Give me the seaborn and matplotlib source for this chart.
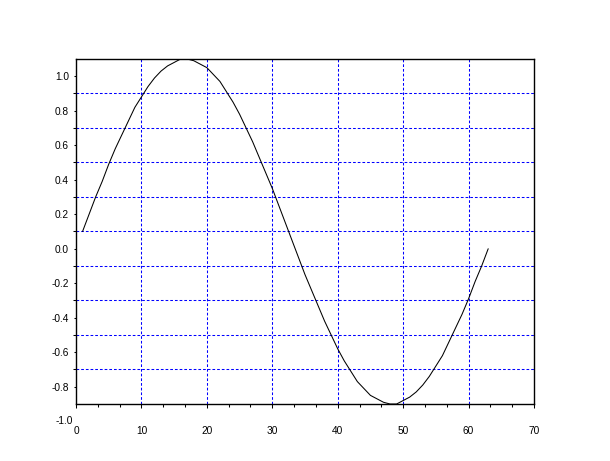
import matplotlib
matplotlib.use("Agg")
import matplotlib.pyplot as plt
from matplotlib.ticker import MultipleLocator, FixedLocator
import seaborn as sns
import pandas as pd

# data
x_values = list(range(1, 64))
y_values = [0.10, 0.20, 0.30, 0.39, 0.49, 0.58, 0.66, 0.74, 0.82, 0.88,
            0.94, 0.99, 1.03, 1.06, 1.08, 1.10, 1.10, 1.09, 1.07, 1.05,
            1.01, 0.97, 0.91, 0.85, 0.78, 0.70, 0.62, 0.53, 0.44, 0.35,
            0.25, 0.15, 0.05, -0.05, -0.15, -0.24, -0.33, -0.42, -0.50, -0.58,
            -0.65, -0.71, -0.77, -0.81, -0.85, -0.87, -0.89, -0.90, -0.90, -0.88,
            -0.86, -0.83, -0.79, -0.74, -0.68, -0.62, -0.54, -0.46, -0.38, -0.29,
            -0.19, -0.10, 0.00]
x_ticks = [0, 10, 20, 30, 40, 50, 60, 70]
y_ticks = [-0.8, -0.6, -0.4, -0.2, 0.0, 0.2, 0.4, 0.6, 0.8, 1.0]
y_grid = [-0.7, -0.5, -0.3, -0.1, 0.1, 0.3, 0.5, 0.7, 0.9]
x_grid = [10, 20, 30, 40, 50, 60]

sns.set_style("white")
plt.rcParams['font.family'] = ['Liberation Sans', 'DejaVu Sans']

df = pd.DataFrame({"x": x_values, "y": y_values})

fig = plt.figure(figsize=(6.10, 4.61), dpi=100)
ax = fig.add_axes([76/610, 1 - 404/461, (534 - 76)/610, (404 - 59)/461])

dash = (0, (2.6, 1.9))
for gx in x_grid:
    ax.axvline(gx, color="#0000ff", lw=0.75, linestyle=dash, zorder=1)
for gy in y_grid:
    ax.axhline(gy, color="#0000ff", lw=0.75, linestyle=dash, zorder=1)

sns.lineplot(data=df, x="x", y="y", ax=ax, color="black", lw=0.75, zorder=3)

ax.set_xlim(0, 70)
ax.set_ylim(-0.9, 1.1)
ax.set_xlabel("")
ax.set_ylabel("")

ax.xaxis.set_major_locator(FixedLocator(x_ticks))
ax.xaxis.set_minor_locator(MultipleLocator(10/3))
ax.set_xticklabels([str(v) for v in x_ticks])
ax.yaxis.set_major_locator(FixedLocator(y_ticks))
ax.yaxis.set_minor_locator(FixedLocator(y_grid))
ax.set_yticklabels([f"{v:.1f}" for v in y_ticks])

fs = 7.3
ax.tick_params(axis="x", which="major", direction="out", length=3, width=0.75,
               pad=12.5, labelsize=fs, bottom=True, top=False,
               color="black", labelcolor="black")
ax.tick_params(axis="x", which="minor", direction="out", length=1.8, width=0.75,
               bottom=True, top=False, color="black")
ax.tick_params(axis="y", which="major", direction="out", length=1.6, width=0.75,
               pad=3.5, labelsize=fs, left=True, right=False,
               color="black", labelcolor="black")
ax.tick_params(axis="y", which="minor", direction="out", length=2.5, width=0.75,
               left=True, right=False, color="black")

# label below the axis for -1.0
ax.text(-0.0065, -1.0, "-1.0", transform=ax.get_yaxis_transform(),
        ha="right", va="center", fontsize=fs, color="black", clip_on=False)

for s in ax.spines.values():
    s.set_color("black")
    s.set_linewidth(1.0)
    s.set_visible(True)

fig.savefig("out.png", dpi=100, facecolor="white")
